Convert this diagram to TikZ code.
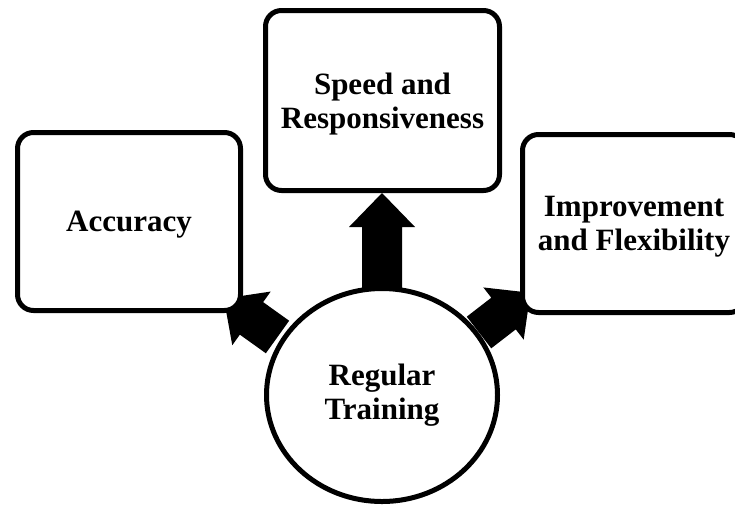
\documentclass[tikz,border=0pt]{standalone}
\usepackage{fontspec}
\setmainfont{Liberation Serif}
\usetikzlibrary{shapes.geometric}

% block arrow: start point, direction (degrees), total length
\newcommand{\radialarrow}[3]{%
  \fill[shift={(#1)}, rotate=#2]
    (0,-20) -- ({#3-34},-20) -- ({#3-34},-33) -- (#3,0)
    -- ({#3-34},33) -- ({#3-34},20) -- (0,20) -- cycle;}

\begin{document}
\begin{tikzpicture}[x=1pt, y=-1pt,
  label font/.style={font=\bfseries\fontsize{31}{33.5}\selectfont},
  card/.style={draw, line width=5pt, rounded corners=16pt, fill=white,
    align=center, inner sep=0pt, text depth=0pt, label font},
  hub/.style={ellipse, draw, line width=5pt, fill=white,
    align=center, inner sep=0pt, label font},
]
\useasboundingbox (0,0) rectangle (735,506);
\clip (0,0) rectangle (735,506);

% arrows from the hub towards the three cards
\radialarrow{382,300}{90}{107}
\radialarrow{277.5,337}{144.4}{66}
\radialarrow{479,332.5}{37.7}{65}

% cards
\node[card, minimum width=223pt, minimum height=178pt] (acc) at (129,221.5) {Accuracy};
\node[card, minimum width=234pt, minimum height=180pt] (speed) at (382.5,100.5) {Speed and\\Responsiveness};
\node[card, minimum width=223pt, minimum height=178pt] (impr) at (634,223.5) {Improvement\\and Flexibility};

% hub
\node[hub, minimum width=231pt, minimum height=213pt] (train) at (382,395) {Regular\\Training};
\end{tikzpicture}
\end{document}
